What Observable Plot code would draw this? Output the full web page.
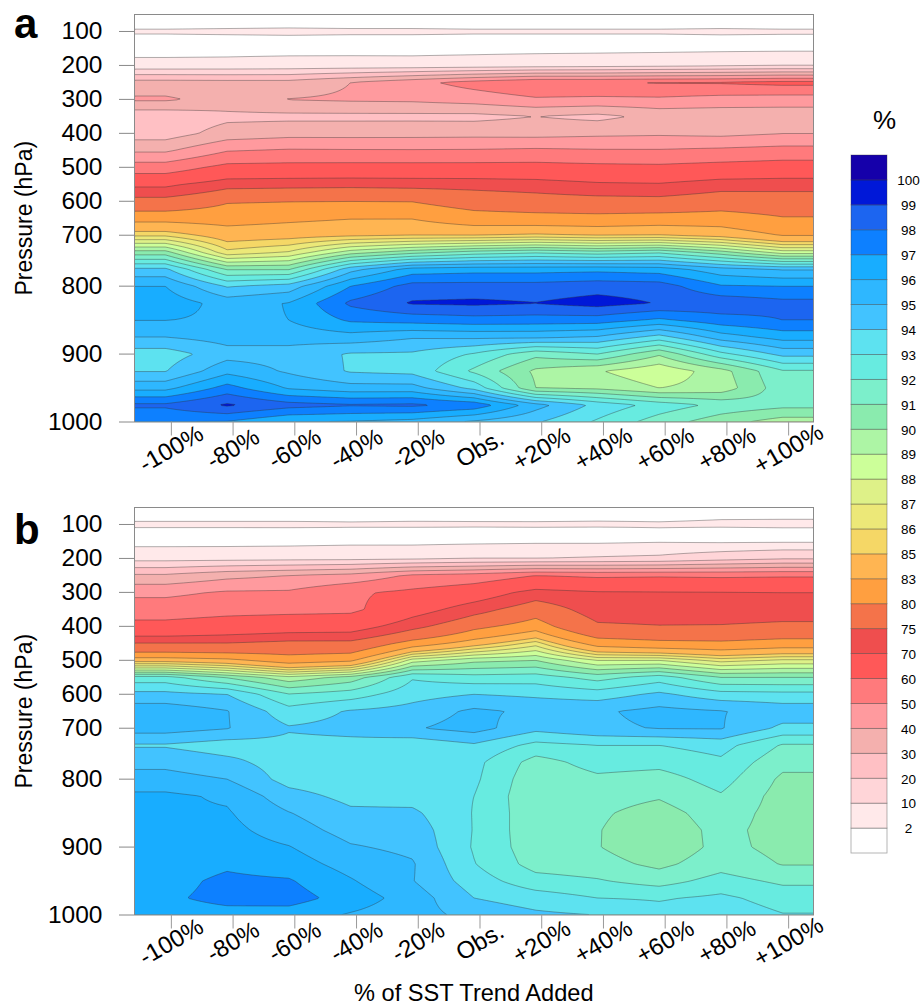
<!DOCTYPE html>
<html><head><meta charset="utf-8">
<script src="https://cdn.jsdelivr.net/npm/d3@7"></script>
<script src="https://cdn.jsdelivr.net/npm/@observablehq/plot@0.6"></script>
<style>
html,body{margin:0;padding:0;background:#fff}
#page{position:relative;width:923px;height:1008px;overflow:hidden;font-family:"Liberation Sans",Arial,sans-serif;color:#000}
#page svg{position:absolute;left:0;background:transparent;overflow:visible}
.t{position:absolute;white-space:nowrap}
</style></head><body><div id="page"></div>
<script>
// Pressure levels (hPa), bottom to top, evenly spaced on the axis
const levels = [1000,975,950,925,900,875,850,825,800,775,750,700,650,600,550,500,450,400,350,300,250,200,150,100,70];
const pressureTicks = [100,200,300,400,500,600,700,800,900,1000];
const sstTicks = [-100,-80,-60,-40,-20,0,20,40,60,80,100];
const sstLabels = ["-100%","-80%","-60%","-40%","-20%","Obs.","+20%","+40%","+60%","+80%","+100%"];
const thresholds = [2,10,20,30,40,50,60,70,75,80,83,85,86,87,88,89,90,91,92,93,94,95,96,97,98,99,100];
const colors = ["#ffffff","#ffe9ea","#ffd5d8","#ffc0c4","#f4b0ae","#ff9a9e","#ff7a7c","#ff5858","#ef4e4e","#f4734a","#ff9f40","#ffb552","#f5d766","#ece878","#def188","#ccff99","#adf5a5","#8aebae","#7cefcb","#67ebe0","#5de2f0","#42c3ff","#2eb7ff","#18adff","#0d80ff","#1c65f0","#0018d8","#1500aa"];

// Values per level (rows, bottom to top) and per SST column
const panelA = [
[97.0,96.9,96.0,95.9,95.6,94.8,94.1,92.85,91.5,90.4,89.5],
[98.2,99.15,98.4,98.1,98.2,97.7,95.4,93.7,92.6,91.7,91.3],
[95.7,97.4,95.9,95.4,95.4,93.7,90.0,89.8,89.0,89.4,91.6],
[93.95,95.7,94.85,93.9,93.7,91.8,89.8,89.1,88.2,89.6,91.9],
[93.5,94.6,94.6,93.9,93.85,92.9,91.3,92.0,90.15,92.7,94.3],
[95.0,95.4,95.4,95.6,95.1,95.2,95.2,94.9,93.6,95.5,96.4],
[96.02,95.8,96.0,97.15,97.4,97.6,97.55,97.5,96.8,97.6,98.0],
[96.6,95.6,96.05,98.2,99.1,99.2,99.03,99.4,98.95,98.7,98.3],
[96.0,93.9,94.43,97.0,98.4,98.4,98.4,98.6,98.5,97.1,97.0],
[94.2,90.9,90.9,94.6,96.4,96.6,96.6,96.7,96.5,95.4,94.9],
[90.4,86.3,87.1,89.5,90.6,91.4,91.8,91.4,91.8,90.4,88.5],
[85.8,84.2,84.45,84.8,85.0,85.0,85.3,85.0,85.1,84.5,82.9],
[82.2,82,82.5,82.9,82.9,81.5,81.3,81.1,81.5,81.5,80.2],
[76.9,79.7,79.9,80,79.9,78.2,77.3,76.9,76.7,78,77.8],
[68.7,73.3,73.6,73.8,73.5,73.3,72.6,70.9,70.5,72.8,72.9],
[55,62.9,63.3,63.5,63.5,63.5,63.5,62.5,62,63.5,64.7],
[38.3,49.3,51,50.7,50.6,50.8,51.7,50.8,50.7,52,53.5],
[24.9,34.3,36.5,36.5,36.6,36.9,36.5,37.8,38.5,37.5,39.8],
[23,27.5,27.5,27.5,27.5,27.2,30.02,27.3,33,33,33.5],
[41.5,36,40.3,41.5,42,44.5,48.7,48,48.4,46.5,45.5],
[34,33.5,33.5,40,47,54,59.5,59.3,60.6,61,63],
[3.5,3.7,4.2,4.3,4.2,4.9,5.8,6.5,7.5,8.8,9.8],
[0.3,0.3,0.3,0.3,0.3,0.3,0.3,0.3,0.3,0.4,0.5],
[2.3,2.4,2.5,2.4,2.4,2.3,2.3,2.3,2.3,2.4,2.3],
[0.1,0.1,0.1,0.1,0.1,0.1,0.1,0.1,0.1,0.1,0.1]
];
const panelB = [
[96.6,96.7,96.5,95.9,95.4,94.7,94.2,94.0,93.4,93.6,93.05],
[96.86,97.25,97.45,96.55,95.55,94.0,93.5,93.0,92.9,93.2,92.6],
[96.7,97.2,97.1,96.1,95.05,93.5,92.4,92.1,91.6,92.4,91.8],
[96.5,96.85,96.5,95.6,95.1,93.05,91.6,91.4,90.75,91.6,90.95],
[96.4,96.5,96.05,95.1,94.76,92.9,91.4,91.05,90.25,91.3,90.7],
[96.3,96.3,95.5,94.6,94.55,92.95,91.3,91.05,90.35,91.3,90.6],
[96.15,96.1,95.05,94.2,94.2,92.95,91.3,91.15,90.6,91.5,90.6],
[96.2,95.85,94.4,93.7,93.6,93.0,91.2,91.4,91.1,91.9,90.6],
[95.4,95.0,93.6,93.3,93.2,93.2,91.3,91.8,91.6,92.4,90.8],
[94.7,94.27,93.5,93.3,93.2,93.3,91.6,92.4,92.3,92.8,91.3],
[93.9,93.5,93.7,93.7,93.3,93.85,92.7,93.0,93.0,93.4,91.9],
[95.45,95.05,94.1,94.3,94.9,95.4,94.3,94.8,95.05,95.07,93.75],
[95.6,95.05,93.4,94.1,94.4,95.2,94.8,94.85,95.3,95.05,94.6],
[94.3,94.0,92.05,92.5,93.6,94.0,93.8,93.5,94.2,93.4,93.3],
[92.4,90.9,89.3,90.4,92.9,92.4,92.5,91.6,92.5,91,91],
[84.4,83.7,81.7,82.6,88.5,89.7,90,88,88,86.6,87.2],
[75.2,75.2,76.4,76.4,81.5,84.2,86.5,81.9,81,80.7,81.5],
[62.9,64.8,66.2,66.7,73.5,79,81.8,75.7,75.2,75.3,75.9],
[55.2,56.9,57.4,58,67,73,78,72.7,72.4,72.4,72.7],
[47.7,51.1,51.4,58.5,62.1,66,72.2,70.5,70.3,70.2,70],
[31.5,37,40,43,51.5,54.4,60,58.5,59,58.5,59],
[6.5,6.7,7.2,7.5,8.5,10,10,11,12,16,19],
[0,0,0.08,0.5,0.25,0.6,1.0,0.9,1.47,0.95,1.1],
[2.45,2.45,2.45,2.3,2.35,2.25,2.2,2.2,2.13,2.2,2.22],
[0,0,0,0.3,0.5,0.8,1,1.2,1.3,1.5,1.5]
];

const font = '"Liberation Sans",Arial,sans-serif';
const page = document.getElementById("page");
const xEdge = 110;

function tidy(table){
  const out = [];
  table.forEach((row,i)=>{
    row.forEach((v,j)=>{
      out.push({x:sstTicks[j],y:i,v});
      if(j===0) out.push({x:-xEdge,y:i,v});
      if(j===row.length-1) out.push({x:xEdge,y:i,v});
    });
  });
  return out;
}

// Plot's raster interpolate hook: piecewise-linear over the rectangular data grid
function gridInterpolate(index,width,height,X,Y,V){
  const xs = Array.from(new Set(Array.from(index,i=>X[i]))).sort((a,b)=>a-b);
  const ys = Array.from(new Set(Array.from(index,i=>Y[i]))).sort((a,b)=>a-b);
  const cell = new Map();
  for(const i of index) cell.set(X[i]+"|"+Y[i],V[i]);
  const at = (a,b)=>cell.get(xs[a]+"|"+ys[b]);
  const W = new Float64Array(width*height);
  const find = (arr,v)=>Math.max(0,Math.min(arr.length-2,d3.bisectRight(arr,v)-1));
  for(let py=0;py<height;py++){
    const sy=py+0.5,b=find(ys,sy),ty=Math.max(0,Math.min(1,(sy-ys[b])/(ys[b+1]-ys[b])));
    for(let px=0;px<width;px++){
      const sx=px+0.5,a=find(xs,sx),tx=Math.max(0,Math.min(1,(sx-xs[a])/(xs[a+1]-xs[a])));
      W[px+py*width]=(1-tx)*(1-ty)*at(a,b)+tx*(1-ty)*at(a+1,b)+(1-tx)*ty*at(a,b+1)+tx*ty*at(a+1,b+1);
    }
  }
  return W;
}

function panel(table,top){
  const chart = Plot.plot({
    width:923,height:490,
    marginLeft:134,marginRight:110,marginTop:14,marginBottom:68.5,
    style:{fontFamily:font,background:"transparent",color:"#000"},
    x:{domain:[-xEdge,xEdge],axis:null},
    y:{domain:[0,levels.length-1],axis:null},
    color:{type:"threshold",domain:thresholds,range:colors},
    marks:[
      Plot.contour(tidy(table),{x:"x",y:"y",fill:"v",interpolate:gridInterpolate,thresholds,pixelSize:1,
        stroke:"#333",strokeOpacity:0.55,strokeWidth:0.7,clip:"frame"}),
      Plot.frame({stroke:"#8a8a8a",strokeWidth:1}),
      Plot.axisX(sstTicks,{tickFormat:d=>sstLabels[sstTicks.indexOf(d)],tickRotate:-30,tickSize:14,tickPadding:13,
        fontSize:24,textAnchor:"middle",lineAnchor:"middle",dx:6,stroke:"#999",label:null,fill:"#000"}),
      Plot.axisY(pressureTicks.map(p=>levels.indexOf(p)),{tickFormat:i=>String(levels[i]),tickSize:15,tickPadding:17,
        fontSize:24.5,stroke:"#888",label:null,fill:"#000"}),
      Plot.text(["Pressure (hPa)"],{frameAnchor:"left",dx:-110,rotate:-90,fontSize:23,textAnchor:"middle",fill:"#000"})
    ]
  });
  chart.style.top = top+"px";
  page.appendChild(chart);
}
panel(panelA,0);
panel(panelB,493);

// Legend: one box per colour, labels on the box boundaries
const boxes = colors.map((c,i)=>({i,c}));
const legendLabels = thresholds.map((t,i)=>({y:i+1,t}));
const legend = Plot.plot({
  width:923,height:800,
  marginLeft:851,marginRight:36,marginTop:55,marginBottom:47,
  style:{fontFamily:font,background:"transparent",color:"#000"},
  x:{domain:[0,1],axis:null},
  y:{domain:[0,colors.length],axis:null},
  marks:[
    Plot.rect(boxes,{x1:0,x2:1,y1:"i",y2:d=>d.i+1,fill:"c",stroke:"#333",strokeOpacity:0.45,strokeWidth:0.8}),
    Plot.text(legendLabels,{y:"y",text:d=>String(d.t),frameAnchor:"right",dx:21,dy:0.5,textAnchor:"middle",fontSize:13.5,fill:"#000"})
  ]
});
legend.style.top = "100px";
page.appendChild(legend);

function label(text,css){
  const d=document.createElement("div");d.className="t";d.textContent=text;d.style.cssText=css;page.appendChild(d);
}
label("a","left:14px;top:3px;font-size:42px;line-height:42px;font-weight:bold");
label("b","left:14px;top:509px;font-size:42px;line-height:42px;font-weight:bold");
label("%","left:873px;top:107px;font-size:26px;line-height:26px");
label("% of SST Trend Added","left:354px;top:981px;font-size:23.6px;line-height:24px");
</script></body></html>
